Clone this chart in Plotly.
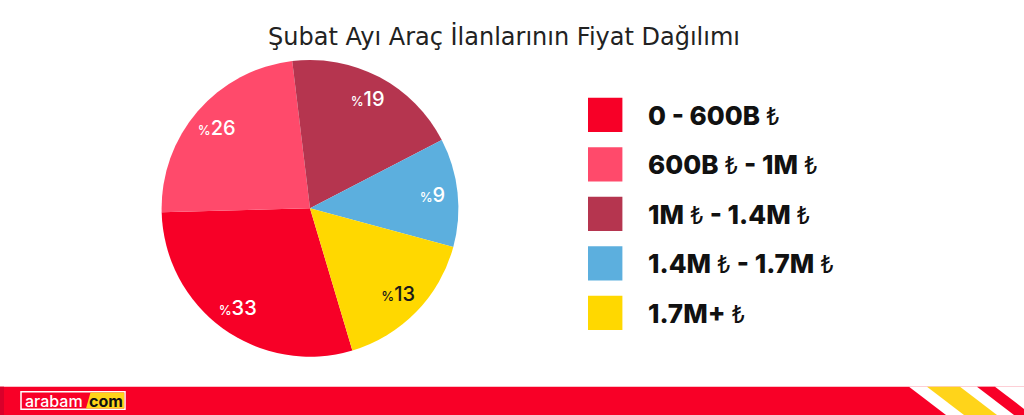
import plotly.graph_objects as go

# ---------------- data ----------------
title_text = "Şubat Ayı Araç İlanlarının Fiyat Dağılımı"
categories = ["0 - 600B ₺", "600B ₺ - 1M ₺", "1M ₺ - 1.4M ₺", "1.4M ₺ - 1.7M ₺", "1.7M+ ₺"]
slice_shares = [29.2, 23.5, 19.3, 11.8, 16.2]      # slice sizes as drawn
shown_percent = [33, 26, 19, 9, 13]                # percentages printed on slices
colors = ["#F70027", "#FF4A6B", "#B5354F", "#5CAFDE", "#FFD800"]
label_colors = ["#FFFFFF", "#FFFFFF", "#FFFFFF", "#FFFFFF", "#1A1A1A"]

W, H = 1024, 415


def X(px):
    return px / W


def Y(py):
    return 1 - py / H


FONT = "Inter, Lato, 'Noto Sans', sans-serif"
TITLE_FONT = "'DejaVu Sans', Inter, sans-serif"

# pie geometry (pixels)
cx, cy, R = 310.0, 208.3, 148.4
dom_x = [X(cx - R), X(cx + R)]
dom_y = [Y(cy + R), Y(cy - R)]

slice_text = ["<span style='font-size:13px'>%%</span>%d" % p for p in shown_percent]

fig = go.Figure()
fig.add_trace(go.Pie(
    values=slice_shares,
    labels=categories,
    sort=False,
    direction="clockwise",
    rotation=163.4,
    marker=dict(colors=colors, line=dict(width=0)),
    textinfo="none",
    hoverinfo="skip",
    domain=dict(x=dom_x, y=dom_y),
    showlegend=False,
))
# transparent ring that carries the percentage labels near the rim
fig.add_trace(go.Pie(
    values=slice_shares,
    labels=categories,
    sort=False,
    direction="clockwise",
    rotation=163.4,
    hole=0.66,
    marker=dict(colors=["rgba(0,0,0,0)"] * len(slice_shares), line=dict(width=0)),
    text=slice_text,
    textinfo="text",
    textposition="inside",
    insidetextorientation="horizontal",
    textfont=dict(family=FONT, size=20, color=label_colors, weight=500),
    hoverinfo="skip",
    domain=dict(x=dom_x, y=dom_y),
    showlegend=False,
))

shapes = []
annotations = []

# title
annotations.append(dict(
    x=X(504), y=Y(37), xref="paper", yref="paper", xanchor="center", yanchor="middle",
    text=title_text, showarrow=False,
    font=dict(family=TITLE_FONT, size=24, color="#222222"),
))

# custom legend
box_left, box_size, top0, pitch = 588.0, 34.4, 97.7, 49.5
for i, (cat, col) in enumerate(zip(categories, colors)):
    top = top0 + i * pitch
    shapes.append(dict(type="rect", xref="paper", yref="paper",
                       x0=X(box_left), x1=X(box_left + box_size), y0=Y(top + box_size), y1=Y(top),
                       fillcolor=col, line=dict(width=0), layer="above"))
    html = "<span style='font-weight:800'>" + cat.replace(
        "₺", "</span><span style='font-size:24px;font-weight:400'>₺</span><span style='font-weight:800'>") + "</span>"
    annotations.append(dict(
        x=X(646), y=Y(top + box_size / 2 + 0.5), xref="paper", yref="paper",
        xanchor="left", yanchor="middle", text=html, showarrow=False,
        font=dict(family=FONT, size=26, color="#111111"),
    ))

# footer band
band_top = 386.7
shapes.append(dict(type="rect", xref="paper", yref="paper", x0=0, x1=1, y0=0, y1=Y(band_top),
                   fillcolor="#F80027", line=dict(width=0), layer="above"))
shapes.append(dict(type="rect", xref="paper", yref="paper", x0=0, x1=X(4), y0=0, y1=Y(band_top),
                   fillcolor="#D9002A", line=dict(width=0), layer="above"))


def para(x_top0, x_top1, shift, color):
    path = "M %f,%f L %f,%f L %f,%f L %f,%f Z" % (
        X(x_top0), Y(band_top), X(x_top1), Y(band_top),
        X(x_top1 + shift), Y(H), X(x_top0 + shift), Y(H))
    return dict(type="path", xref="paper", yref="paper", path=path,
                fillcolor=color, line=dict(width=0), layer="above")


shift = 37.0
shapes.append(para(909, 1100, shift, "#FFFFFF"))
shapes.append(para(927, 960, shift, "#FFD41A"))
shapes.append(para(977, 995, shift, "#F80027"))

# logo
shapes.append(dict(type="rect", xref="paper", yref="paper", x0=X(21), x1=X(125), y0=Y(409.3), y1=Y(391.7),
                   fillcolor="#F80027", line=dict(color="#FFFFFF", width=1.5), layer="above"))
logo_path = "M %f,%f L %f,%f L %f,%f L %f,%f Z" % (
    X(90.5), Y(392.5), X(124.2), Y(392.5), X(124.2), Y(408.5), X(86), Y(408.5))
shapes.append(dict(type="path", xref="paper", yref="paper", path=logo_path,
                   fillcolor="#FFD41A", line=dict(width=0), layer="above"))
annotations.append(dict(x=X(54), y=Y(400.5), xref="paper", yref="paper", xanchor="center", yanchor="middle",
                        text="arabam", showarrow=False,
                        font=dict(family=FONT, size=16, color="#FFFFFF", weight=500)))
annotations.append(dict(x=X(106), y=Y(400.5), xref="paper", yref="paper", xanchor="center", yanchor="middle",
                        text="com", showarrow=False,
                        font=dict(family=FONT, size=16, color="#111111", weight=700)))

fig.update_layout(
    width=W, height=H, autosize=False,
    margin=dict(l=0, r=0, t=0, b=0),
    paper_bgcolor="#FFFFFF", plot_bgcolor="#FFFFFF",
    shapes=shapes, annotations=annotations,
)

fig.write_html("out.html", config={"displayModeBar": False},
               post_script="document.body.style.margin='0';document.body.style.overflow='hidden';")
